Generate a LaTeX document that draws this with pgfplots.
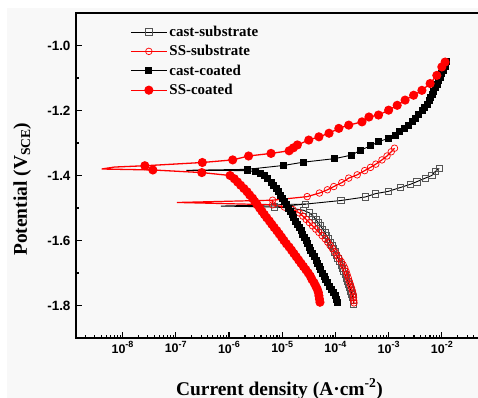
\documentclass[border=0pt]{standalone}
\usepackage{fontspec}
\setmainfont{Liberation Serif}
\setsansfont{Liberation Sans}
\usepackage{pgfplots}
\pgfplotsset{compat=1.18}
\usetikzlibrary{backgrounds}
\definecolor{bgray}{HTML}{F8F8F8}
\definecolor{sqgray}{HTML}{555555}
\newcommand{\dec}[1]{10\raisebox{0.42em}{\fontsize{9}{9}\selectfont #1}}
\begin{document}
\begin{tikzpicture}
\begin{axis}[
  name=ax,
  scale only axis, width=403bp, height=325bp,
  xmode=log, xmin=1.337e-9, xmax=4.99e-2,
  ymin=-1.9, ymax=-0.9,
  axis line style={line width=1.6bp},
  tick align=inside, xtick pos=bottom, ytick pos=left,
  major tick length=6bp, minor tick length=3.5bp,
  every tick/.style={black, line width=1.1bp},
  xtick={1e-8,1e-7,1e-6,1e-5,1e-4,1e-3,1e-2},
  xticklabels={\dec{-8},\dec{-7},\dec{-6},\dec{-5},\dec{-4},\dec{-3},\dec{-2}},
  minor xtick={2e-9,3e-9,4e-9,5e-9,6e-9,7e-9,8e-9,9e-9,
    2e-8,3e-8,4e-8,5e-8,6e-8,7e-8,8e-8,9e-8,
    2e-7,3e-7,4e-7,5e-7,6e-7,7e-7,8e-7,9e-7,
    2e-6,3e-6,4e-6,5e-6,6e-6,7e-6,8e-6,9e-6,
    2e-5,3e-5,4e-5,5e-5,6e-5,7e-5,8e-5,9e-5,
    2e-4,3e-4,4e-4,5e-4,6e-4,7e-4,8e-4,9e-4,
    2e-3,3e-3,4e-3,5e-3,6e-3,7e-3,8e-3,9e-3,
    2e-2,3e-2,4e-2},
  ytick={-1.8,-1.6,-1.4,-1.2,-1.0},
  yticklabels={-1.8,-1.6,-1.4,-1.2,-1.0},
  minor ytick={-1.9,-1.7,-1.5,-1.3,-1.1,-0.9},
  xticklabel style={font=\sffamily\bfseries\fontsize{12.5}{14}\selectfont},
  yticklabel style={font=\sffamily\bfseries\fontsize{13.5}{15}\selectfont, xshift=-2bp},
  xlabel={Current density (A·cm\textsuperscript{-2})},
  ylabel={Potential (V\textsubscript{SCE})},
  every axis x label/.style={at={(rel axis cs:0.505,0)}, yshift=-57bp, anchor=base,
    font=\bfseries\fontsize{19.5}{22}\selectfont},
  every axis y label/.style={at={(rel axis cs:0,0.458)}, xshift=-49bp, rotate=90, anchor=base,
    font=\bfseries\fontsize{19.5}{22}\selectfont},
  legend style={at={(rel axis cs:0.134,0.969)}, anchor=north west, draw=none, fill=none,
    inner sep=0pt, row sep=2bp,
    font=\bfseries\fontsize{15}{18}\selectfont,
    nodes={inner sep=2bp, text height=11bp, text depth=2.4bp}},
  legend cell align=left,
  legend image code/.code={
    \draw[mark repeat=2, mark phase=2] plot coordinates {(0bp,0bp) (18bp,0bp) (36bp,0bp)};},
]
% ---- cast-substrate ----
\addplot[forget plot, black, line width=0.9bp] coordinates {
 (7.08e-6,-1.497) (7.08e-7,-1.494) (2.75e-5,-1.488)};
\addplot[black, line width=0.9bp, mark=square, mark size=3.2bp,
  mark options={draw=sqgray, fill=white, line width=0.7bp, solid}] coordinates {
 (2.19e-4,-1.795) (2.16e-4,-1.785) (2.11e-4,-1.775) (2.04e-4,-1.765) (1.95e-4,-1.755)
 (1.86e-4,-1.745) (1.78e-4,-1.735) (1.70e-4,-1.725) (1.62e-4,-1.715) (1.53e-4,-1.705)
 (1.445e-4,-1.695) (1.365e-4,-1.685) (1.29e-4,-1.675) (1.20e-4,-1.665) (1.12e-4,-1.655)
 (1.05e-4,-1.645) (9.77e-5,-1.635) (9.12e-5,-1.625) (8.51e-5,-1.615) (7.94e-5,-1.605)
 (7.41e-5,-1.595) (6.84e-5,-1.585) (6.31e-5,-1.575) (5.75e-5,-1.565) (5.25e-5,-1.555)
 (4.79e-5,-1.545) (4.27e-5,-1.535) (3.80e-5,-1.525) (3.24e-5,-1.515) (2.51e-5,-1.507)
 (1.41e-5,-1.500) (7.08e-6,-1.497)
 (2.75e-5,-1.488) (1.26e-4,-1.477) (3.67e-4,-1.466) (5.62e-4,-1.456) (9.77e-4,-1.449)
 (1.66e-3,-1.437) (2.57e-3,-1.427) (3.39e-3,-1.419) (4.90e-3,-1.408) (6.46e-3,-1.400)
 (7.50e-3,-1.388) (8.91e-3,-1.378)};
% ---- SS-substrate ----
\addplot[forget plot, red, line width=1.2bp] coordinates {
 (6.61e-6,-1.490) (1.05e-7,-1.483) (6.61e-6,-1.476)};
\addplot[red, line width=1.2bp, mark=o, mark size=3.3bp,
  mark options={fill=white, line width=0.7bp, solid}] coordinates {
 (2.24e-4,-1.792) (2.21e-4,-1.785) (2.19e-4,-1.775) (2.16e-4,-1.765) (2.09e-4,-1.755)
 (2.00e-4,-1.745) (1.91e-4,-1.735) (1.82e-4,-1.725) (1.74e-4,-1.715) (1.66e-4,-1.705)
 (1.585e-4,-1.695) (1.50e-4,-1.685) (1.40e-4,-1.675) (1.29e-4,-1.665) (1.175e-4,-1.655)
 (1.07e-4,-1.645) (9.77e-5,-1.635) (8.81e-5,-1.625) (7.94e-5,-1.615) (7.16e-5,-1.605)
 (6.46e-5,-1.595) (5.62e-5,-1.585) (4.90e-5,-1.575) (4.27e-5,-1.565) (3.72e-5,-1.555)
 (3.24e-5,-1.545) (2.82e-5,-1.535) (2.45e-5,-1.525) (2.09e-5,-1.515) (1.585e-5,-1.505)
 (1.10e-5,-1.497) (6.61e-6,-1.490)
 (6.61e-6,-1.476) (2.95e-5,-1.465) (5.01e-5,-1.454) (7.08e-5,-1.444) (9.33e-5,-1.434)
 (1.32e-4,-1.422) (1.78e-4,-1.408) (2.57e-4,-1.398) (3.55e-4,-1.385) (4.57e-4,-1.375)
 (5.75e-4,-1.365) (7.50e-4,-1.352) (9.33e-4,-1.340) (1.12e-3,-1.327) (1.29e-3,-1.316)};
% ---- cast-coated ----
\addplot[forget plot, black, line width=0.9bp] coordinates {
 (2.24e-6,-1.385) (1.58e-7,-1.384) (2.24e-6,-1.381)};
\addplot[black, line width=0.9bp, mark=square*, mark size=3bp,
  mark options={solid}] coordinates {
 (1.096e-4,-1.790) (1.047e-4,-1.780) (1.00e-4,-1.770) (9.12e-5,-1.760) (8.51e-5,-1.750)
 (7.76e-5,-1.740) (7.24e-5,-1.730) (6.61e-5,-1.720) (6.10e-5,-1.710) (5.69e-5,-1.700)
 (5.31e-5,-1.690) (4.95e-5,-1.680) (4.62e-5,-1.670) (4.32e-5,-1.660) (4.03e-5,-1.650)
 (3.72e-5,-1.640) (3.47e-5,-1.630) (3.24e-5,-1.620) (3.02e-5,-1.610) (2.82e-5,-1.600)
 (2.63e-5,-1.590) (2.45e-5,-1.580) (2.29e-5,-1.570) (2.11e-5,-1.560) (1.95e-5,-1.550)
 (1.80e-5,-1.540) (1.66e-5,-1.530) (1.53e-5,-1.520) (1.41e-5,-1.510) (1.29e-5,-1.500)
 (1.19e-5,-1.490) (1.10e-5,-1.480) (1.01e-5,-1.470) (9.33e-6,-1.460) (8.51e-6,-1.450)
 (7.76e-6,-1.440) (6.92e-6,-1.430) (6.17e-6,-1.420) (5.37e-6,-1.410) (4.68e-6,-1.400)
 (3.98e-6,-1.393) (3.16e-6,-1.388) (2.24e-6,-1.385)
 (2.24e-6,-1.381) (1.07e-5,-1.369) (2.51e-5,-1.359) (9.77e-5,-1.348) (2.04e-4,-1.337)
 (2.95e-4,-1.322) (4.57e-4,-1.309) (6.46e-4,-1.296) (9.77e-4,-1.286) (1.35e-3,-1.276)
 (1.62e-3,-1.265) (1.95e-3,-1.255) (2.37e-3,-1.245) (2.75e-3,-1.235) (3.16e-3,-1.225)
 (3.63e-3,-1.211) (4.27e-3,-1.200) (4.79e-3,-1.190) (5.25e-3,-1.180) (5.75e-3,-1.170)
 (6.17e-3,-1.160) (6.61e-3,-1.150) (7.08e-3,-1.140) (7.59e-3,-1.130) (8.13e-3,-1.120)
 (8.71e-3,-1.107) (9.33e-3,-1.097) (1.00e-2,-1.087) (1.07e-2,-1.077) (1.15e-2,-1.066)
 (1.19e-2,-1.057) (1.23e-2,-1.048)};
% ---- SS-coated ----
\addplot[forget plot, red, line width=1.3bp] coordinates {
 (3.72e-8,-1.383) (4.07e-9,-1.380) (7.08e-9,-1.374) (2.63e-8,-1.370)};
\addplot[red, line width=1.3bp, mark=*, mark size=3.9bp,
  mark options={solid}] coordinates {
 (5.13e-5,-1.790) (5.01e-5,-1.780) (4.90e-5,-1.770) (4.79e-5,-1.760) (4.57e-5,-1.750)
 (4.27e-5,-1.740) (3.98e-5,-1.730) (3.63e-5,-1.720) (3.39e-5,-1.710) (3.09e-5,-1.700)
 (2.79e-5,-1.690) (2.51e-5,-1.680) (2.26e-5,-1.670) (2.04e-5,-1.660) (1.84e-5,-1.650)
 (1.66e-5,-1.640) (1.50e-5,-1.630) (1.35e-5,-1.620) (1.20e-5,-1.610) (1.08e-5,-1.600)
 (9.77e-6,-1.590) (8.81e-6,-1.580) (7.94e-6,-1.570) (7.08e-6,-1.560) (6.38e-6,-1.550)
 (5.75e-6,-1.540) (5.13e-6,-1.530) (4.62e-6,-1.520) (4.17e-6,-1.510) (3.76e-6,-1.500)
 (3.39e-6,-1.490) (3.05e-6,-1.480) (2.78e-6,-1.470) (2.45e-6,-1.460) (2.19e-6,-1.450)
 (1.91e-6,-1.440) (1.66e-6,-1.430) (1.45e-6,-1.420) (1.26e-6,-1.410) (1.05e-6,-1.400)
 (3.09e-7,-1.391) (3.72e-8,-1.383)
 (2.63e-8,-1.370) (3.16e-7,-1.360) (1.175e-6,-1.352) (2.34e-6,-1.340) (6.17e-6,-1.332)
 (1.35e-5,-1.324) (1.62e-5,-1.315) (1.93e-5,-1.306) (3.16e-5,-1.291) (4.90e-5,-1.281)
 (7.59e-5,-1.270) (1.16e-4,-1.255) (1.78e-4,-1.245) (3.16e-4,-1.235) (4.27e-4,-1.220)
 (6.46e-4,-1.214) (1.00e-3,-1.199) (1.45e-3,-1.184) (2.04e-3,-1.168) (2.95e-3,-1.153)
 (4.22e-3,-1.138) (6.03e-3,-1.117) (8.04e-3,-1.092) (1.00e-2,-1.066) (1.15e-2,-1.051)};
\legend{cast-substrate,SS-substrate,cast-coated,SS-coated}
\end{axis}
\pgfresetboundingbox
\useasboundingbox ([xshift=-76bp,yshift=-60bp]ax.south west) rectangle ([xshift=-1bp,yshift=13bp]ax.north east);
\begin{scope}[on background layer]
\fill[white] ([xshift=-76bp,yshift=-60bp]ax.south west) rectangle ([xshift=-1bp,yshift=13bp]ax.north east);
\fill[bgray] ([xshift=-69bp,yshift=-60bp]ax.south west) rectangle ([xshift=-1bp,yshift=5bp]ax.north east);
\end{scope}
\end{tikzpicture}
\end{document}
